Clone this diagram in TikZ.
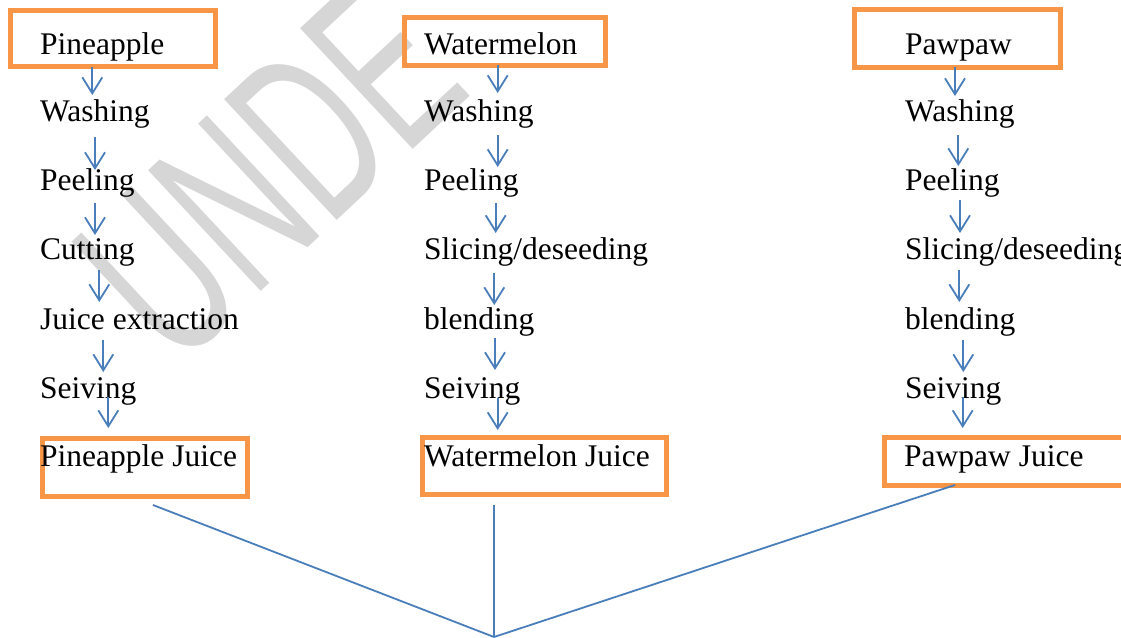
\documentclass[tikz,border=0pt]{standalone}
\usepackage{fontspec}
\setmainfont{Liberation Serif}
\newfontfamily\wmfont{Liberation Sans}
\usetikzlibrary{arrows.meta}
\definecolor{lineblue}{HTML}{4A7EBB}
\definecolor{boxorange}{HTML}{F79646}
\definecolor{wmgray}{RGB}{214,214,214}
\begin{document}
\begin{tikzpicture}[x=1pt,y=-1pt,
  lbl/.style={anchor=base west, inner sep=0pt, font=\fontsize{31.5}{38}\selectfont},
  obox/.style={draw=boxorange, line width=5pt, inner sep=0pt},
  arr/.style={draw=lineblue, line width=1.8pt, -{Straight Barb[length=16pt,width=20pt]}},
  link/.style={draw=lineblue, line width=1.8pt},
  wm/.style={text=wmgray, inner sep=0pt, font=\wmfont\fontsize{240}{240}\selectfont}]
\useasboundingbox (0,0) rectangle (1121,637);
\clip (0,0) rectangle (1121,637);
\fill[white] (0,0) rectangle (1121,637);
% watermark
\node[wm, rotate=43, xscale=0.6] (wmark) at (270,172) {UNDE};
% boxes
\node[obox, minimum width=205.5pt, minimum height=56.5pt] (b1) at (112.75,38.25) {};
\node[obox, minimum width=201.5pt, minimum height=47.5pt] (b2) at (504.75,41.25) {};
\node[obox, minimum width=206pt, minimum height=57.5pt] (b3) at (957,38.25) {};
\node[obox, minimum width=205.5pt, minimum height=58pt] (b4) at (144.75,467.5) {};
\node[obox, minimum width=244.5pt, minimum height=57.5pt] (b5) at (544.25,465.75) {};
\node[obox, minimum width=251pt, minimum height=48pt] (b6) at (1009.5,461) {};
% column 1
\node[lbl] (p0) at (40,54) {Pineapple};
\node[lbl] (p1) at (40,121) {Washing};
\node[lbl] (p2) at (40,190) {Peeling};
\node[lbl] (p3) at (40,259) {Cutting};
\node[lbl] (p4) at (40,329) {Juice extraction};
\node[lbl] (p5) at (40,398) {Seiving};
\node[lbl] (p6) at (40,466) {Pineapple Juice};
% column 2
\node[lbl] (w0) at (424,54) {Watermelon};
\node[lbl] (w1) at (424,121) {Washing};
\node[lbl] (w2) at (424,190) {Peeling};
\node[lbl] (w3) at (424,259) {Slicing/deseeding};
\node[lbl] (w4) at (424,329) {blending};
\node[lbl] (w5) at (424,398) {Seiving};
\node[lbl] (w6) at (424,466) {Watermelon Juice};
% column 3
\node[lbl] (q0) at (905,54) {Pawpaw};
\node[lbl] (q1) at (905,121) {Washing};
\node[lbl] (q2) at (905,190) {Peeling};
\node[lbl] (q3) at (905,259) {Slicing/deseeding};
\node[lbl] (q4) at (905,329) {blending};
\node[lbl] (q5) at (905,398) {Seiving};
\node[lbl] (q6) at (904,466) {Pawpaw Juice};
% arrows
\foreach \n/\x/\a/\b in {
  a1/92.3/67/95, a2/95/137/170, a3/95/203/235, a4/99.3/270/302, a5/103.3/340/372, a6/108.3/397/428,
  c1/497.7/65/93, c2/497.7/135/167, c3/495.7/203/233, c4/494.3/273/305, c5/495/338/370, c6/497.7/398/430,
  d1/955/67/96, d2/958.3/135/166, d3/960/200/233, d4/959.3/270/302, d5/963.3/340/372, d6/962.7/397/428}{
  \coordinate (\n s) at (\x,\a);
  \coordinate (\n e) at (\x,\b);
  \draw[arr] (\n s) -- (\n e);
}
% joining lines
\coordinate (j1) at (153,505);
\coordinate (j2) at (494,505);
\coordinate (j3) at (955,485);
\coordinate (m) at (494,637);
\draw[link] (j1) -- (m);
\draw[link] (j2) -- (m);
\draw[link] (j3) -- (m);
\end{tikzpicture}
\end{document}
